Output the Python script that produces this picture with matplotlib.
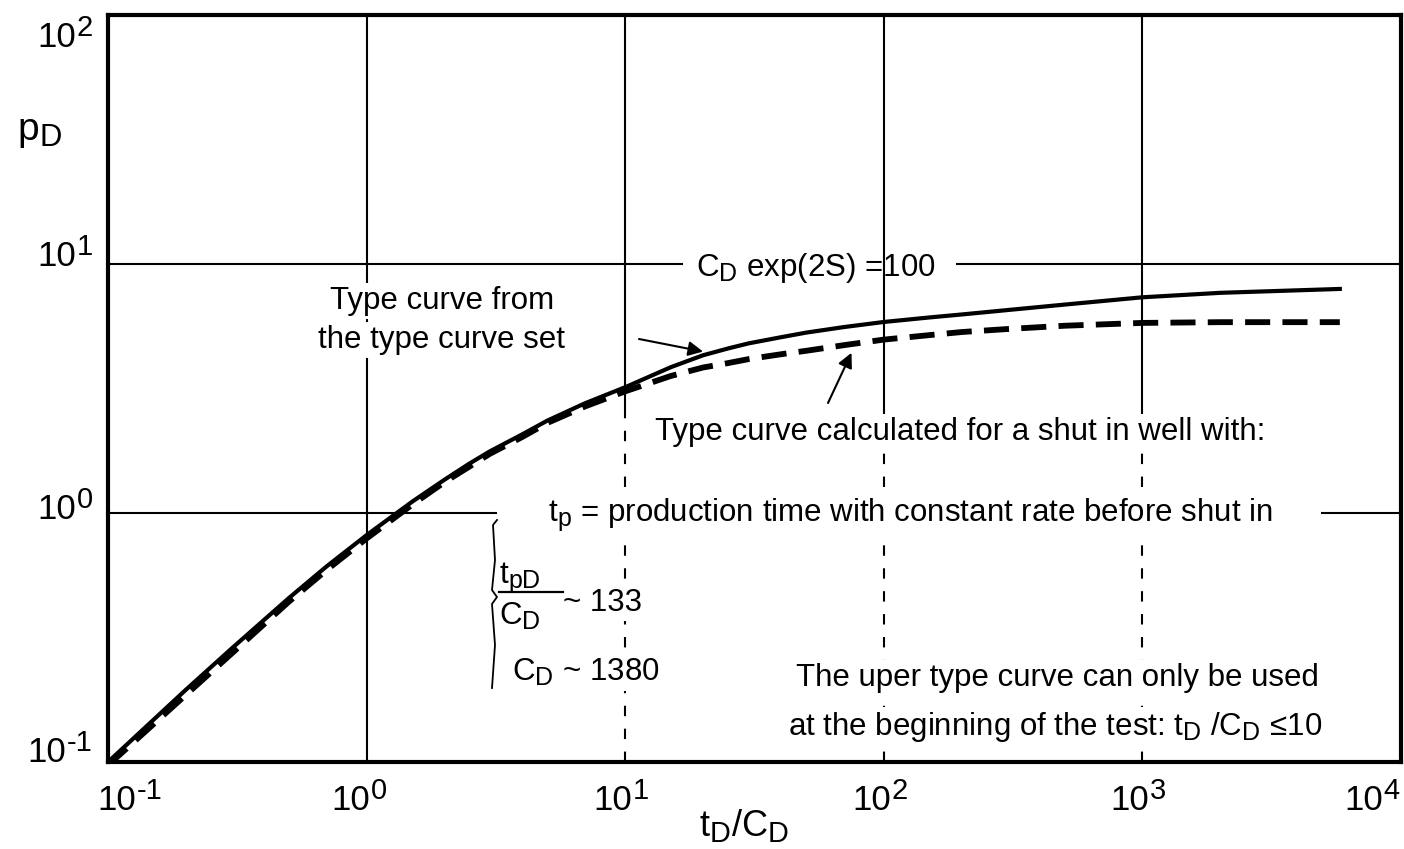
import numpy as np
import matplotlib
matplotlib.use("Agg")
import matplotlib.pyplot as plt
import matplotlib._mathtext as mathtext_internals
from matplotlib.lines import Line2D

W, H = 1404, 849

# type curve from the type curve set (solid)
td_solid = [0.1, 0.2, 0.3, 0.5, 0.7, 1.0, 1.5, 2.0, 2.5, 3.0, 4.0, 5.0, 7.0, 10, 15,
            20, 25, 30, 40, 50, 70, 100, 150, 200, 300, 500, 1000, 2000, 5800]
pd_solid = [0.1, 0.195, 0.285, 0.455, 0.61, 0.815, 1.11, 1.36, 1.58, 1.77, 2.07, 2.35,
            2.76, 3.2, 3.85, 4.3, 4.58, 4.8, 5.08, 5.3, 5.58, 5.85, 6.1, 6.27, 6.53,
            6.87, 7.35, 7.66, 7.94]

# type curve calculated for the shut in well (dashed)
td_dashed = [0.1, 0.2, 0.3, 0.5, 0.7, 1.0, 1.5, 2.0, 3.0, 4.0, 5.0, 7.0, 10, 15, 20,
             25, 30, 40, 50, 70, 100, 150, 200, 300, 500, 1000, 2000, 5800]
pd_dashed = [0.097, 0.186, 0.272, 0.44, 0.59, 0.79, 1.08, 1.33, 1.73, 2.02, 2.3, 2.68,
             3.08, 3.55, 3.84, 4.0, 4.15, 4.34, 4.48, 4.72, 4.97, 5.18, 5.33, 5.48,
             5.65, 5.8, 5.84, 5.84]

x_decades = [1e-1, 1e0, 1e1, 1e2, 1e3, 1e4]
x_exps = ["-1", "0", "1", "2", "3", "4"]
y_decades = [1e-1, 1e0, 1e1, 1e2]
y_exps = ["-1", "0", "1", "2"]

plt.rcParams["font.family"] = ["Liberation Sans", "DejaVu Sans"]
plt.rcParams["mathtext.fontset"] = "custom"
plt.rcParams["mathtext.rm"] = "Liberation Sans"
plt.rcParams["mathtext.it"] = "Liberation Sans:italic"
plt.rcParams["mathtext.bf"] = "Liberation Sans:bold"
plt.rcParams["mathtext.sf"] = "Liberation Sans"
# subscripts in the scanned figure are only a little smaller than the text
mathtext_internals.SHRINK_FACTOR = 0.8


def fp(px, py):
    """reference pixel -> figure fraction"""
    return (px / W, 1 - py / H)


fig = plt.figure(figsize=(W / 100, H / 100), dpi=100)
ax = fig.add_axes([108 / W, 1 - 762 / H, (1401 - 108) / W, (762 - 15) / H])
ax.set_xscale("log")
ax.set_yscale("log")
ax.set_xlim(x_decades[0], x_decades[-1])
ax.set_ylim(y_decades[0], y_decades[-1])

# grid lines (broken where the labels sit)
glw = 1.5
ax.hlines(10, 0.1, 16.8, color="black", lw=glw, zorder=1)
ax.hlines(10, 190, 1e4, color="black", lw=glw, zorder=1)
ax.hlines(1, 0.1, 3.2, color="black", lw=glw, zorder=1)
ax.hlines(1, 4900, 1e4, color="black", lw=glw, zorder=1)
ax.vlines(1, 0.1, 100, color="black", lw=glw, zorder=1)
for xv in x_decades[2:5]:
    ax.vlines(xv, 2.6, 100, color="black", lw=glw, zorder=1)
    ax.vlines(xv, 0.1, 2.6, color="black", lw=glw, zorder=1,
              linestyles=(0, (5, 6)))

# curves
ax.plot(td_solid, pd_solid, color="black", lw=3.0, zorder=4)
ax.plot(td_dashed, pd_dashed, color="black", lw=4.2, dashes=(4.3, 2.1),
        dash_capstyle="butt", zorder=3)

ax.set_xticks([])
ax.set_yticks([])
ax.xaxis.set_minor_locator(matplotlib.ticker.NullLocator())
ax.yaxis.set_minor_locator(matplotlib.ticker.NullLocator())
for sp in ax.spines.values():
    sp.set_linewidth(3.0)
    sp.set_zorder(6)

# decade labels: "10" plus a nearly full size exponent (offsets in px)
base_fs, exp_fs, raise_px = 25, 21, 11
px_per_em_base = base_fs * 100 / 72
px_per_em_exp = exp_fs * 100 / 72
w10 = 1.112 * px_per_em_base


def exp_width(e):
    return (0.556 * len(e.replace("-", "")) + 0.333 * e.count("-")) * px_per_em_exp


def put(text, xy, xycoords, dx, dy, size, ha):
    ax.annotate(text, xy=xy, xycoords=xycoords, xytext=(dx * 0.72, dy * 0.72),
                textcoords="offset points", fontsize=size, ha=ha, va="baseline",
                annotation_clip=False)


x_center = [22, -7, -4, -4, -4, -29]
for xv, e, dc in zip(x_decades, x_exps, x_center):
    total = w10 + 1 + exp_width(e)
    left = dc - total / 2
    put("10", (xv, 0), ax.get_xaxis_transform(), left, -48, base_fs, "left")
    put(e, (xv, 0), ax.get_xaxis_transform(), left + w10 + 1, -48 + raise_px,
        exp_fs, "left")

y_base = [0, -6, -2, -32]
for yv, e, db in zip(y_decades, y_exps, y_base):
    put(e, (0, yv), ax.get_yaxis_transform(), -15, db + raise_px, exp_fs, "right")
    put("10", (0, yv), ax.get_yaxis_transform(), -15 - exp_width(e) - 1, db,
        base_fs, "right")

fs = 22.5
wb = dict(facecolor="white", edgecolor="none", pad=2)

fig.text(*fp(39, 132), r"$\mathrm{p_D}$", fontsize=28, ha="center", va="center")
fig.text(*fp(744, 826), r"$\mathrm{t_D/C_D}$", fontsize=26, ha="center", va="center")

ax.text(*fp(816, 268), r"$\mathrm{C_D}$ exp(2S) =100", transform=fig.transFigure,
        fontsize=fs, ha="center", va="center", zorder=5)
ax.text(*fp(442, 301), "Type curve from", transform=fig.transFigure,
        fontsize=fs, ha="center", va="center", bbox=wb, zorder=5)
ax.text(*fp(442, 340), "the type curve set", transform=fig.transFigure,
        fontsize=fs, ha="center", va="center", bbox=wb, zorder=5)
ax.text(*fp(960, 432), "Type curve calculated for a shut in well with:",
        transform=fig.transFigure, fontsize=fs, ha="center", va="center",
        bbox=wb, zorder=5)
ax.text(*fp(910, 515), r"$\mathrm{t_p}$ = production time with constant rate before shut in",
        transform=fig.transFigure, fontsize=fs, ha="center", va="center",
        bbox=wb, zorder=5)

# ratio t_pD / C_D ~ 133, written as a stacked fraction
ax.text(*fp(499, 583), r"$\mathrm{t_{pD}}$", transform=fig.transFigure,
        fontsize=fs, ha="left", va="baseline", zorder=5)
ax.text(*fp(499, 625), r"$\mathrm{C_D}$", transform=fig.transFigure,
        fontsize=fs, ha="left", va="baseline", zorder=5)
fig.add_artist(Line2D([fp(499, 0)[0], fp(563, 0)[0]], [fp(0, 592)[1]] * 2,
                      color="black", lw=1.6, zorder=6))
ax.text(*fp(563, 611), "~ 133", transform=fig.transFigure,
        fontsize=fs, ha="left", va="baseline", bbox=wb, zorder=5)
ax.text(*fp(512, 681), r"$\mathrm{C_D}$ ~ 1380", transform=fig.transFigure,
        fontsize=fs, ha="left", va="baseline", bbox=wb, zorder=5)

ax.text(*fp(1057, 678), "The uper type curve can only be used",
        transform=fig.transFigure, fontsize=fs, ha="center", va="center",
        bbox=wb, zorder=5)
ax.text(*fp(1055, 727), r"at the beginning of the test: $\mathrm{t_D}$ /$\mathrm{C_D}$ ≤10",
        transform=fig.transFigure, fontsize=fs, ha="center", va="center",
        bbox=wb, zorder=5)

# bracket next to the ratio annotation
bx = [497, 493, 495, 492, 497, 492, 495, 492]
by = [520, 525, 560, 590, 597, 604, 645, 688]
fig.add_artist(Line2D([fp(a, b)[0] for a, b in zip(bx, by)],
                      [fp(a, b)[1] for a, b in zip(bx, by)],
                      color="black", lw=1.3))

# arrows to the curves
arrow = dict(arrowstyle="-|>", color="black", lw=1.5, mutation_scale=22,
             shrinkA=0, shrinkB=0)
ax.annotate("", xy=(20, 4.45), xytext=fp(639, 339), textcoords="figure fraction",
            arrowprops=arrow, zorder=5)
ax.annotate("", xy=(75, 4.4), xytext=fp(828, 403), textcoords="figure fraction",
            arrowprops=arrow, zorder=5)

fig.savefig("out.png", dpi=100, facecolor="white")
